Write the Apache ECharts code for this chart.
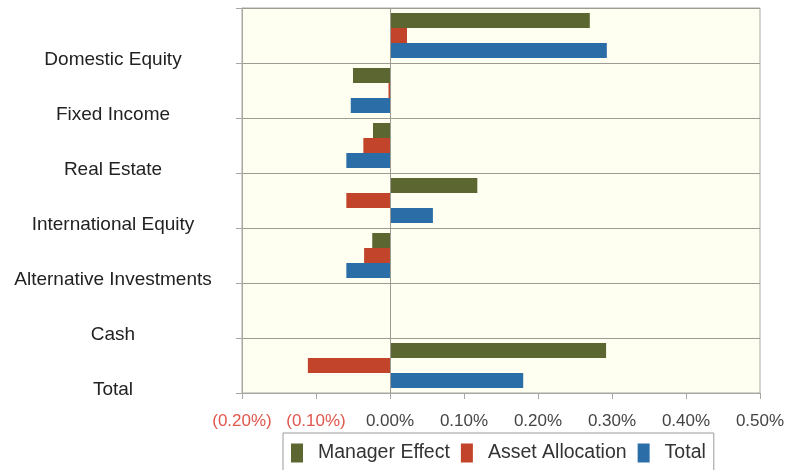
<!DOCTYPE html>
<html>
<head>
<meta charset="utf-8">
<script src="https://cdn.jsdelivr.net/npm/echarts@6/dist/echarts.min.js"></script>
<style>
	html, body { margin: 0; padding: 0; background: #fff; }
	#chart { width: 804px; height: 470px; }
</style>
</head>
<body>
<div id="chart"></div>
<script>
// categories top to bottom
const categories = [
	"Domestic Equity",
	"Fixed Income",
	"Real Estate",
	"International Equity",
	"Alternative Investments",
	"Cash",
	"Total",
];
// values in percent
const managerEffect = [0.270, -0.050, -0.023, 0.118, -0.024, 0, 0.292];
const assetAllocation = [0.023, -0.002, -0.036, -0.059, -0.035, 0, -0.111];
const totalEffect = [0.293, -0.053, -0.059, 0.058, -0.059, 0, 0.180];
const seriesNames = ["Manager Effect", "Asset Allocation", "Total"];
const xMin = -0.2;
const xMax = 0.5;
const xStep = 0.1;

function fmtPct(v) {
	let s = Math.abs(v).toFixed(2) + "%";
	return v < -1e-9 ? "(" + s + ")" : s;
}

let myChart = echarts.init(document.getElementById("chart"));
let option = {
	animation: false,
	textStyle: { fontFamily: "Liberation Sans, Arial, sans-serif" },
	grid: {
		left: 242,
		right: 44,
		top: 8,
		bottom: 77,
		show: true,
		backgroundColor: "#fefef1",
		borderColor: "#a8a8a0",
		borderWidth: 1,
	},
	legend: {
		data: seriesNames,
		left: 283,
		top: 433,
		padding: [10, 8, 14, 8],
		borderColor: "#9a9a9a",
		borderWidth: 1,
		itemWidth: 12,
		itemHeight: 19,
		itemGap: 11,
		icon: "rect",
		textStyle: {
			fontSize: 19.5,
			color: "#333", //图例字体颜色
			padding: [0, 0, 0, 10],
		},
	},
	xAxis: {
		type: "value",
		min: xMin,
		max: xMax,
		interval: xStep,
		axisLine: { show: true, lineStyle: { color: "#a8a8a0" } },
		axisTick: { show: true, length: 6, lineStyle: { color: "#a8a8a0" } },
		splitLine: { show: false },
		axisLabel: {
			fontSize: 17,
			margin: 20,
			formatter: fmtPct,
			color: function (v) {
				return v < -1e-9 ? "#e0564c" : "#444";
			},
		},
	},
	yAxis: {
		type: "category",
		data: categories,
		inverse: true,
		axisLine: { show: true, onZero: false, lineStyle: { color: "#a8a8a0" } },
		axisTick: { show: true, length: 6, lineStyle: { color: "#a8a8a0" } },
		splitLine: { show: true, lineStyle: { color: "#9c9c94" } },
		axisLabel: {
			align: "center",
			margin: 129,
			//标签下移到分区底部
			formatter: function (name) {
				return "{gap|}\n{t|" + name + "}";
			},
			rich: {
				gap: { lineHeight: 48, fontSize: 1 },
				t: { fontSize: 19, lineHeight: 22, color: "#222", align: "center" },
			},
		},
	},
	series: [
		{
			name: seriesNames[0],
			type: "bar",
			data: managerEffect,
			barWidth: 15,
			barGap: "0%",
			itemStyle: { color: "#5b6630" },
			markLine: {
				silent: true,
				symbol: "none",
				label: { show: false },
				lineStyle: { color: "#9c9c94", type: "solid", width: 1 },
				data: [{ xAxis: 0 }],
			},
		},
		{
			name: seriesNames[1],
			type: "bar",
			data: assetAllocation,
			barWidth: 15,
			barGap: "0%",
			itemStyle: { color: "#c1442b" },
		},
		{
			name: seriesNames[2],
			type: "bar",
			data: totalEffect,
			barWidth: 15,
			barGap: "0%",
			itemStyle: { color: "#2b6ea7" },
		},
	],
};
myChart.setOption(option);
</script>
</body>
</html>
